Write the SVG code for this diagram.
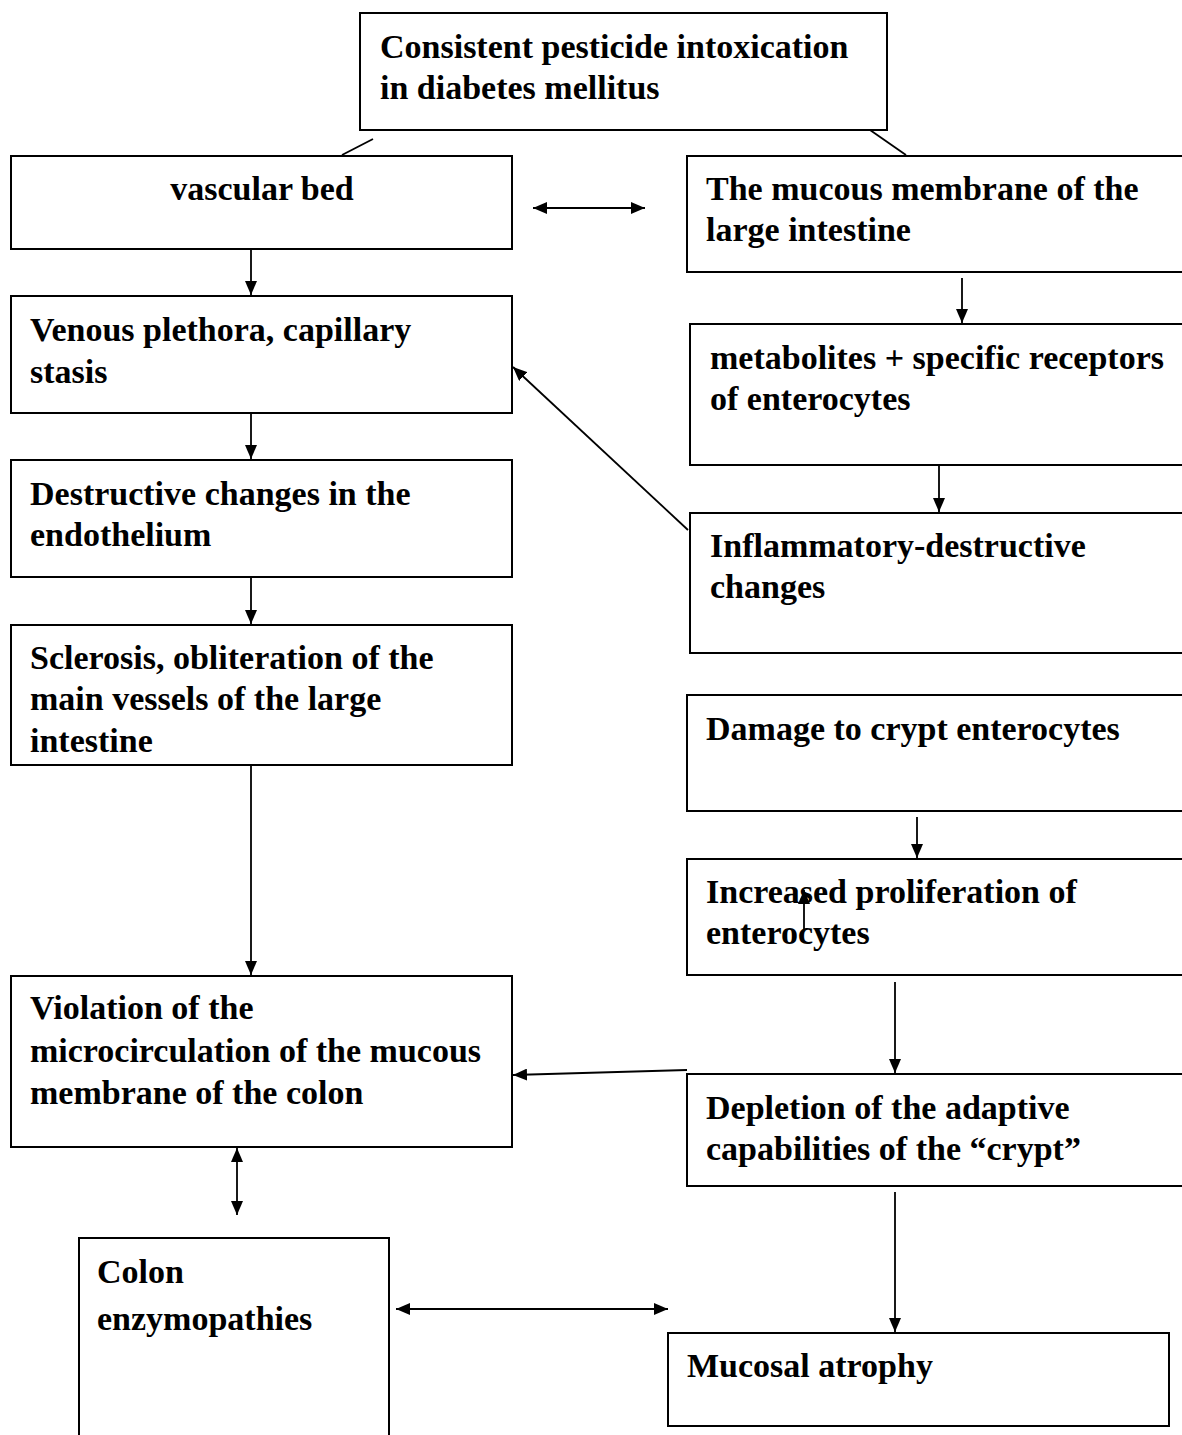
<svg xmlns="http://www.w3.org/2000/svg" width="1182" height="1435" viewBox="0 0 1182 1435">
<style>
.box{fill:#fff;stroke:#000;stroke-width:2}
.t{font-family:"Liberation Serif","Times New Roman",serif;font-weight:bold;font-size:34px;fill:#000}
.c{stroke:#000;stroke-width:1.8;fill:none}
</style>
<defs>
<marker id="ah" viewBox="0 0 14 12" refX="14" refY="6" markerWidth="14" markerHeight="12" markerUnits="userSpaceOnUse" orient="auto-start-reverse">
<path d="M0,0 L14,6 L0,12 z" fill="#000"/>
</marker>
</defs>
<rect width="1182" height="1435" fill="#fff"/>
<g id="connectors">
<line class="c" x1="373" y1="139" x2="342" y2="155"/>
<line class="c" x1="870" y1="130" x2="906" y2="155"/>
<line class="c" x1="533" y1="208" x2="645" y2="208" marker-start="url(#ah)" marker-end="url(#ah)"/>
<line class="c" x1="251" y1="250" x2="251" y2="295" marker-end="url(#ah)"/>
<line class="c" x1="251" y1="414" x2="251" y2="459" marker-end="url(#ah)"/>
<line class="c" x1="251" y1="578" x2="251" y2="624" marker-end="url(#ah)"/>
<line class="c" x1="251" y1="766" x2="251" y2="975" marker-end="url(#ah)"/>
<line class="c" x1="962" y1="278" x2="962" y2="323" marker-end="url(#ah)"/>
<line class="c" x1="939" y1="466" x2="939" y2="512" marker-end="url(#ah)"/>
<line class="c" x1="688" y1="530" x2="513" y2="367" marker-end="url(#ah)"/>
<line class="c" x1="917" y1="817" x2="917" y2="858" marker-end="url(#ah)"/>
<line class="c" x1="895" y1="982" x2="895" y2="1073" marker-end="url(#ah)"/>
<line class="c" x1="687" y1="1070" x2="513" y2="1075" marker-end="url(#ah)"/>
<line class="c" x1="237" y1="1148" x2="237" y2="1215" marker-start="url(#ah)" marker-end="url(#ah)"/>
<line class="c" x1="396" y1="1309" x2="668" y2="1309" marker-start="url(#ah)" marker-end="url(#ah)"/>
<line class="c" x1="895" y1="1192" x2="895" y2="1332" marker-end="url(#ah)"/>
</g>
<g id="n-top"><rect class="box" x="360" y="13" width="527" height="117"/>
<text class="t" x="380" y="58">Consistent pesticide intoxication</text>
<text class="t" x="380" y="99">in diabetes mellitus</text></g>
<g id="n-vascular"><rect class="box" x="11" y="156" width="501" height="93"/>
<text class="t" x="262" y="200" text-anchor="middle">vascular bed</text></g>
<g id="n-mucous"><rect class="box" x="687" y="156" width="500" height="116"/>
<text class="t" x="706" y="200">The mucous membrane of the</text>
<text class="t" x="706" y="241">large intestine</text></g>
<g id="n-venous"><rect class="box" x="11" y="296" width="501" height="117"/>
<text class="t" x="30" y="341">Venous plethora, capillary</text>
<text class="t" x="30" y="383">stasis</text></g>
<g id="n-metabolites"><rect class="box" x="690" y="324" width="497" height="141"/>
<text class="t" x="710" y="369">metabolites + specific receptors</text>
<text class="t" x="710" y="410">of enterocytes</text></g>
<g id="n-destructive"><rect class="box" x="11" y="460" width="501" height="117"/>
<text class="t" x="30" y="505">Destructive changes in the</text>
<text class="t" x="30" y="546">endothelium</text></g>
<g id="n-inflammatory"><rect class="box" x="690" y="513" width="497" height="140"/>
<text class="t" x="710" y="557">Inflammatory-destructive</text>
<text class="t" x="710" y="598">changes</text></g>
<g id="n-sclerosis"><rect class="box" x="11" y="625" width="501" height="140"/>
<text class="t" x="30" y="669">Sclerosis, obliteration of the</text>
<text class="t" x="30" y="710">main vessels of the large</text>
<text class="t" x="30" y="752">intestine</text></g>
<g id="n-damage"><rect class="box" x="687" y="695" width="500" height="116"/>
<text class="t" x="706" y="740">Damage to crypt enterocytes</text></g>
<g id="n-increased"><rect class="box" x="687" y="859" width="500" height="116"/>
<text class="t" x="706" y="903">Increased proliferation of</text>
<text class="t" x="706" y="944">enterocytes</text></g>
<g id="n-violation"><rect class="box" x="11" y="976" width="501" height="171"/>
<text class="t" x="30" y="1019">Violation of the</text>
<text class="t" x="30" y="1062">microcirculation of the mucous</text>
<text class="t" x="30" y="1104">membrane of the colon</text></g>
<g id="n-depletion"><rect class="box" x="687" y="1074" width="500" height="112"/>
<text class="t" x="706" y="1119">Depletion of the adaptive</text>
<text class="t" x="706" y="1160">capabilities of the “crypt”</text></g>
<g id="n-colon"><rect class="box" x="79" y="1238" width="310" height="210"/>
<text class="t" x="97" y="1283">Colon</text>
<text class="t" x="97" y="1330">enzymopathies</text></g>
<g id="n-mucosal"><rect class="box" x="668" y="1333" width="501" height="93"/>
<text class="t" x="687" y="1377">Mucosal atrophy</text></g>
<line class="c" x1="804" y1="930" x2="804" y2="890" marker-end="url(#ah)"/>
</svg>
